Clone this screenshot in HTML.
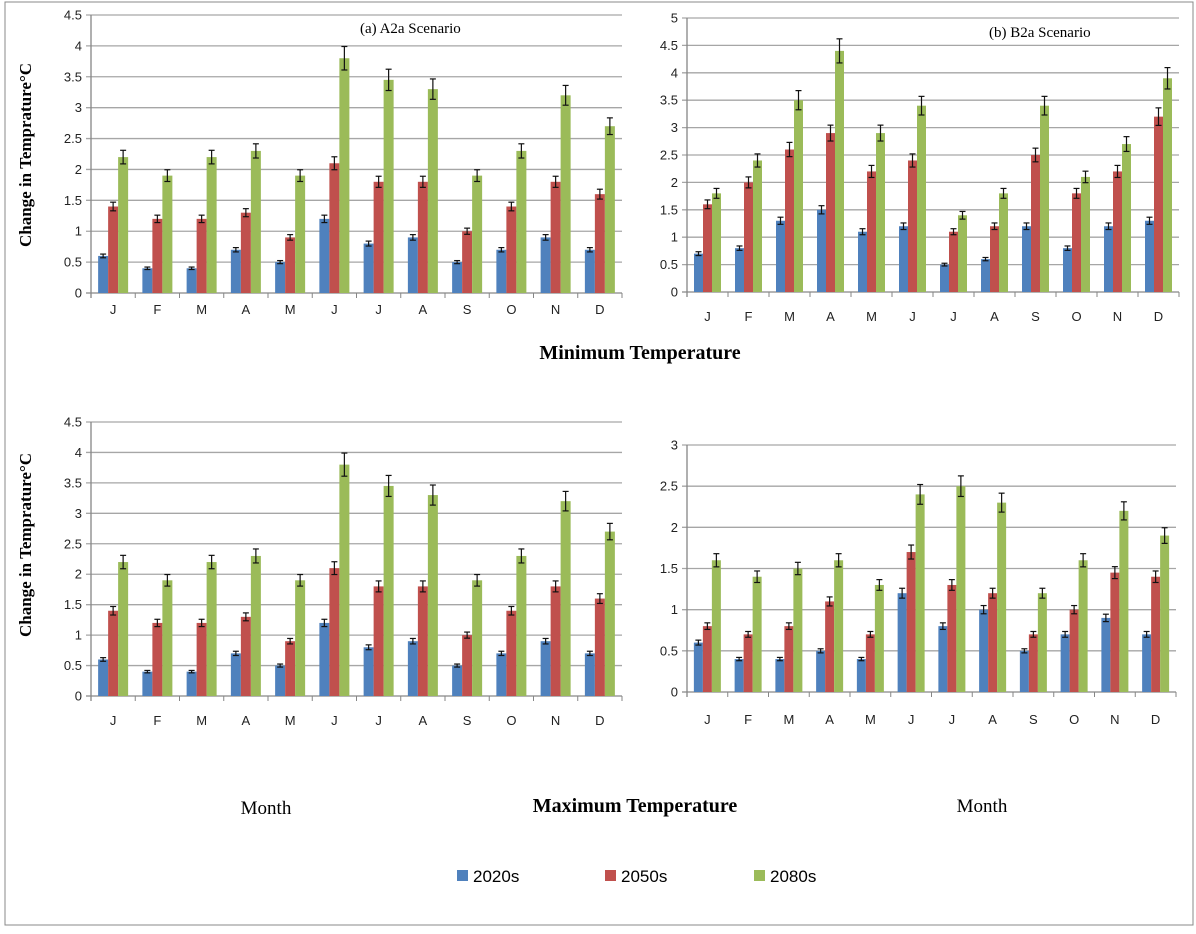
<!DOCTYPE html>
<html><head><meta charset="utf-8">
<style>
html,body{margin:0;padding:0;background:#fff;}
body{width:1196px;height:929px;overflow:hidden;position:relative;font-family:"Liberation Sans",sans-serif;}
svg text{font-family:"Liberation Sans",sans-serif;}
.serif{font-family:"Liberation Serif",serif;}
</style></head>
<body>
<svg id="fig" width="1196" height="929" xmlns="http://www.w3.org/2000/svg">
<rect x="5" y="2" width="1188" height="923" fill="#fff" stroke="#888" stroke-width="1"/>
<text class="serif" x="360" y="33" font-size="15">(a) A2a  Scenario</text>
<text class="serif" x="989" y="37" font-size="15">(b) B2a Scenario</text>
<text class="serif" x="640" y="359" font-size="20" font-weight="bold" text-anchor="middle">Minimum Temperature</text>
<text class="serif" x="635" y="812" font-size="20" font-weight="bold" text-anchor="middle">Maximum Temperature</text>
<text class="serif" x="266" y="814" font-size="19" text-anchor="middle">Month</text>
<text class="serif" x="982" y="812" font-size="19" text-anchor="middle">Month</text>
<text class="serif" transform="translate(31,155) rotate(-90)" font-size="17" font-weight="bold" text-anchor="middle">Change in Temprature°C</text>
<text class="serif" transform="translate(31,545) rotate(-90)" font-size="17" font-weight="bold" text-anchor="middle">Change in Temprature°C</text>
<g>
<rect x="457" y="870" width="11" height="11" fill="#4f81bd"/>
<text x="473" y="882" font-size="17">2020s</text>
<rect x="605" y="870" width="11" height="11" fill="#c0504d"/>
<text x="621" y="882" font-size="17">2050s</text>
<rect x="754" y="870" width="11" height="11" fill="#9bbb59"/>
<text x="770" y="882" font-size="17">2080s</text>
</g>
</svg>
<script>
const months = ["J","F","M","A","M","J","J","A","S","O","N","D"];
const seriesNames = ["2020s","2050s","2080s"];
const a2aMin2020 = [0.6,0.4,0.4,0.7,0.5,1.2,0.8,0.9,0.5,0.7,0.9,0.7];
const a2aMin2050 = [1.4,1.2,1.2,1.3,0.9,2.1,1.8,1.8,1.0,1.4,1.8,1.6];
const a2aMin2080 = [2.2,1.9,2.2,2.3,1.9,3.8,3.45,3.3,1.9,2.3,3.2,2.7];
const b2aMin2020 = [0.7,0.8,1.3,1.5,1.1,1.2,0.5,0.6,1.2,0.8,1.2,1.3];
const b2aMin2050 = [1.6,2.0,2.6,2.9,2.2,2.4,1.1,1.2,2.5,1.8,2.2,3.2];
const b2aMin2080 = [1.8,2.4,3.5,4.4,2.9,3.4,1.4,1.8,3.4,2.1,2.7,3.9];
const a2aMax2020 = [0.6,0.4,0.4,0.7,0.5,1.2,0.8,0.9,0.5,0.7,0.9,0.7];
const a2aMax2050 = [1.4,1.2,1.2,1.3,0.9,2.1,1.8,1.8,1.0,1.4,1.8,1.6];
const a2aMax2080 = [2.2,1.9,2.2,2.3,1.9,3.8,3.45,3.3,1.9,2.3,3.2,2.7];
const b2aMax2020 = [0.6,0.4,0.4,0.5,0.4,1.2,0.8,1.0,0.5,0.7,0.9,0.7];
const b2aMax2050 = [0.8,0.7,0.8,1.1,0.7,1.7,1.3,1.2,0.7,1.0,1.45,1.4];
const b2aMax2080 = [1.6,1.4,1.5,1.6,1.3,2.4,2.5,2.3,1.2,1.6,2.2,1.9];
const ticks45 = ["0","0.5","1","1.5","2","2.5","3","3.5","4","4.5"];
const ticks5 = ["0","0.5","1","1.5","2","2.5","3","3.5","4","4.5","5"];
const ticks3 = ["0","0.5","1","1.5","2","2.5","3"];
const errFrac = 0.05;

const NS = "http://www.w3.org/2000/svg";
const svg = document.getElementById("fig");
const colors = ["#4f81bd","#c0504d","#9bbb59"];
function mk(tag, attrs, parent){
  const e = document.createElementNS(NS, tag);
  for (const k in attrs) e.setAttribute(k, attrs[k]);
  (parent||svg).appendChild(e);
  return e;
}
function panel(id, x0, x1, y0, y1, ticks, series, barW, labelY){
  const g = mk("g", {});
  
  
  const maxV = parseFloat(ticks[ticks.length-1]);
  const yS = v => y0 - (v/maxV)*(y0-y1);
  const cw = (x1-x0)/months.length;
  ticks.forEach((t,i)=>{
    const v = parseFloat(t), y = yS(v);
    const ln = mk("line",{x1:x0-5,x2:x1,y1:y,y2:y,stroke: i===0?"#868686":"#a6a6a6","stroke-width":1.3}, g);
    
    
    const tx = mk("text",{x:x0-9,y:y+4.5,"font-size":13,"text-anchor":"end",fill:"#222"}, g);
    
    
    tx.textContent = t;
  });
  mk("line",{x1:x0,x2:x0,y1:y1,y2:y0+5,stroke:"#868686","stroke-width":1.3}, g);
  for (let i=0;i<=months.length;i++){
    const x = x0 + i*cw;
    mk("line",{x1:x,x2:x,y1:y0,y2:y0+5,stroke:"#868686","stroke-width":1}, g);
  }
  months.forEach((m,i)=>{
    const cx = x0 + (i+0.5)*cw;
    const tx = mk("text",{x:cx,y:labelY,"font-size":13,"text-anchor":"middle",fill:"#222"}, g);
    
    
    tx.textContent = m;
    series.forEach((arr,s)=>{
      const v = arr[i];
      const bx = cx - 1.5*barW + s*barW;
      const r = mk("rect",{x:bx,y:yS(v),width:barW,height:y0-yS(v),fill:colors[s]}, g);
      
      
      const e = v*errFrac, ex = bx + barW/2;
      const eg = mk("g",{stroke:"#111","stroke-width":1.2}, g);
      
      
      mk("line",{x1:ex,x2:ex,y1:yS(v+e),y2:yS(v-e)}, eg);
      mk("line",{x1:ex-3,x2:ex+3,y1:yS(v+e),y2:yS(v+e)}, eg);
      mk("line",{x1:ex-3,x2:ex+3,y1:yS(v-e),y2:yS(v-e)}, eg);
    });
  });
}
panel("a2a-min", 91, 622, 293, 15, ticks45, [a2aMin2020,a2aMin2050,a2aMin2080], 10, 314);
panel("b2a-min", 687, 1179, 292, 18, ticks5, [b2aMin2020,b2aMin2050,b2aMin2080], 9, 321);
panel("a2a-max", 91, 622, 696, 422, ticks45, [a2aMax2020,a2aMax2050,a2aMax2080], 10, 725);
panel("b2a-max", 687, 1176, 692, 445, ticks3, [b2aMax2020,b2aMax2050,b2aMax2080], 9, 724);
</script>
</body></html>
